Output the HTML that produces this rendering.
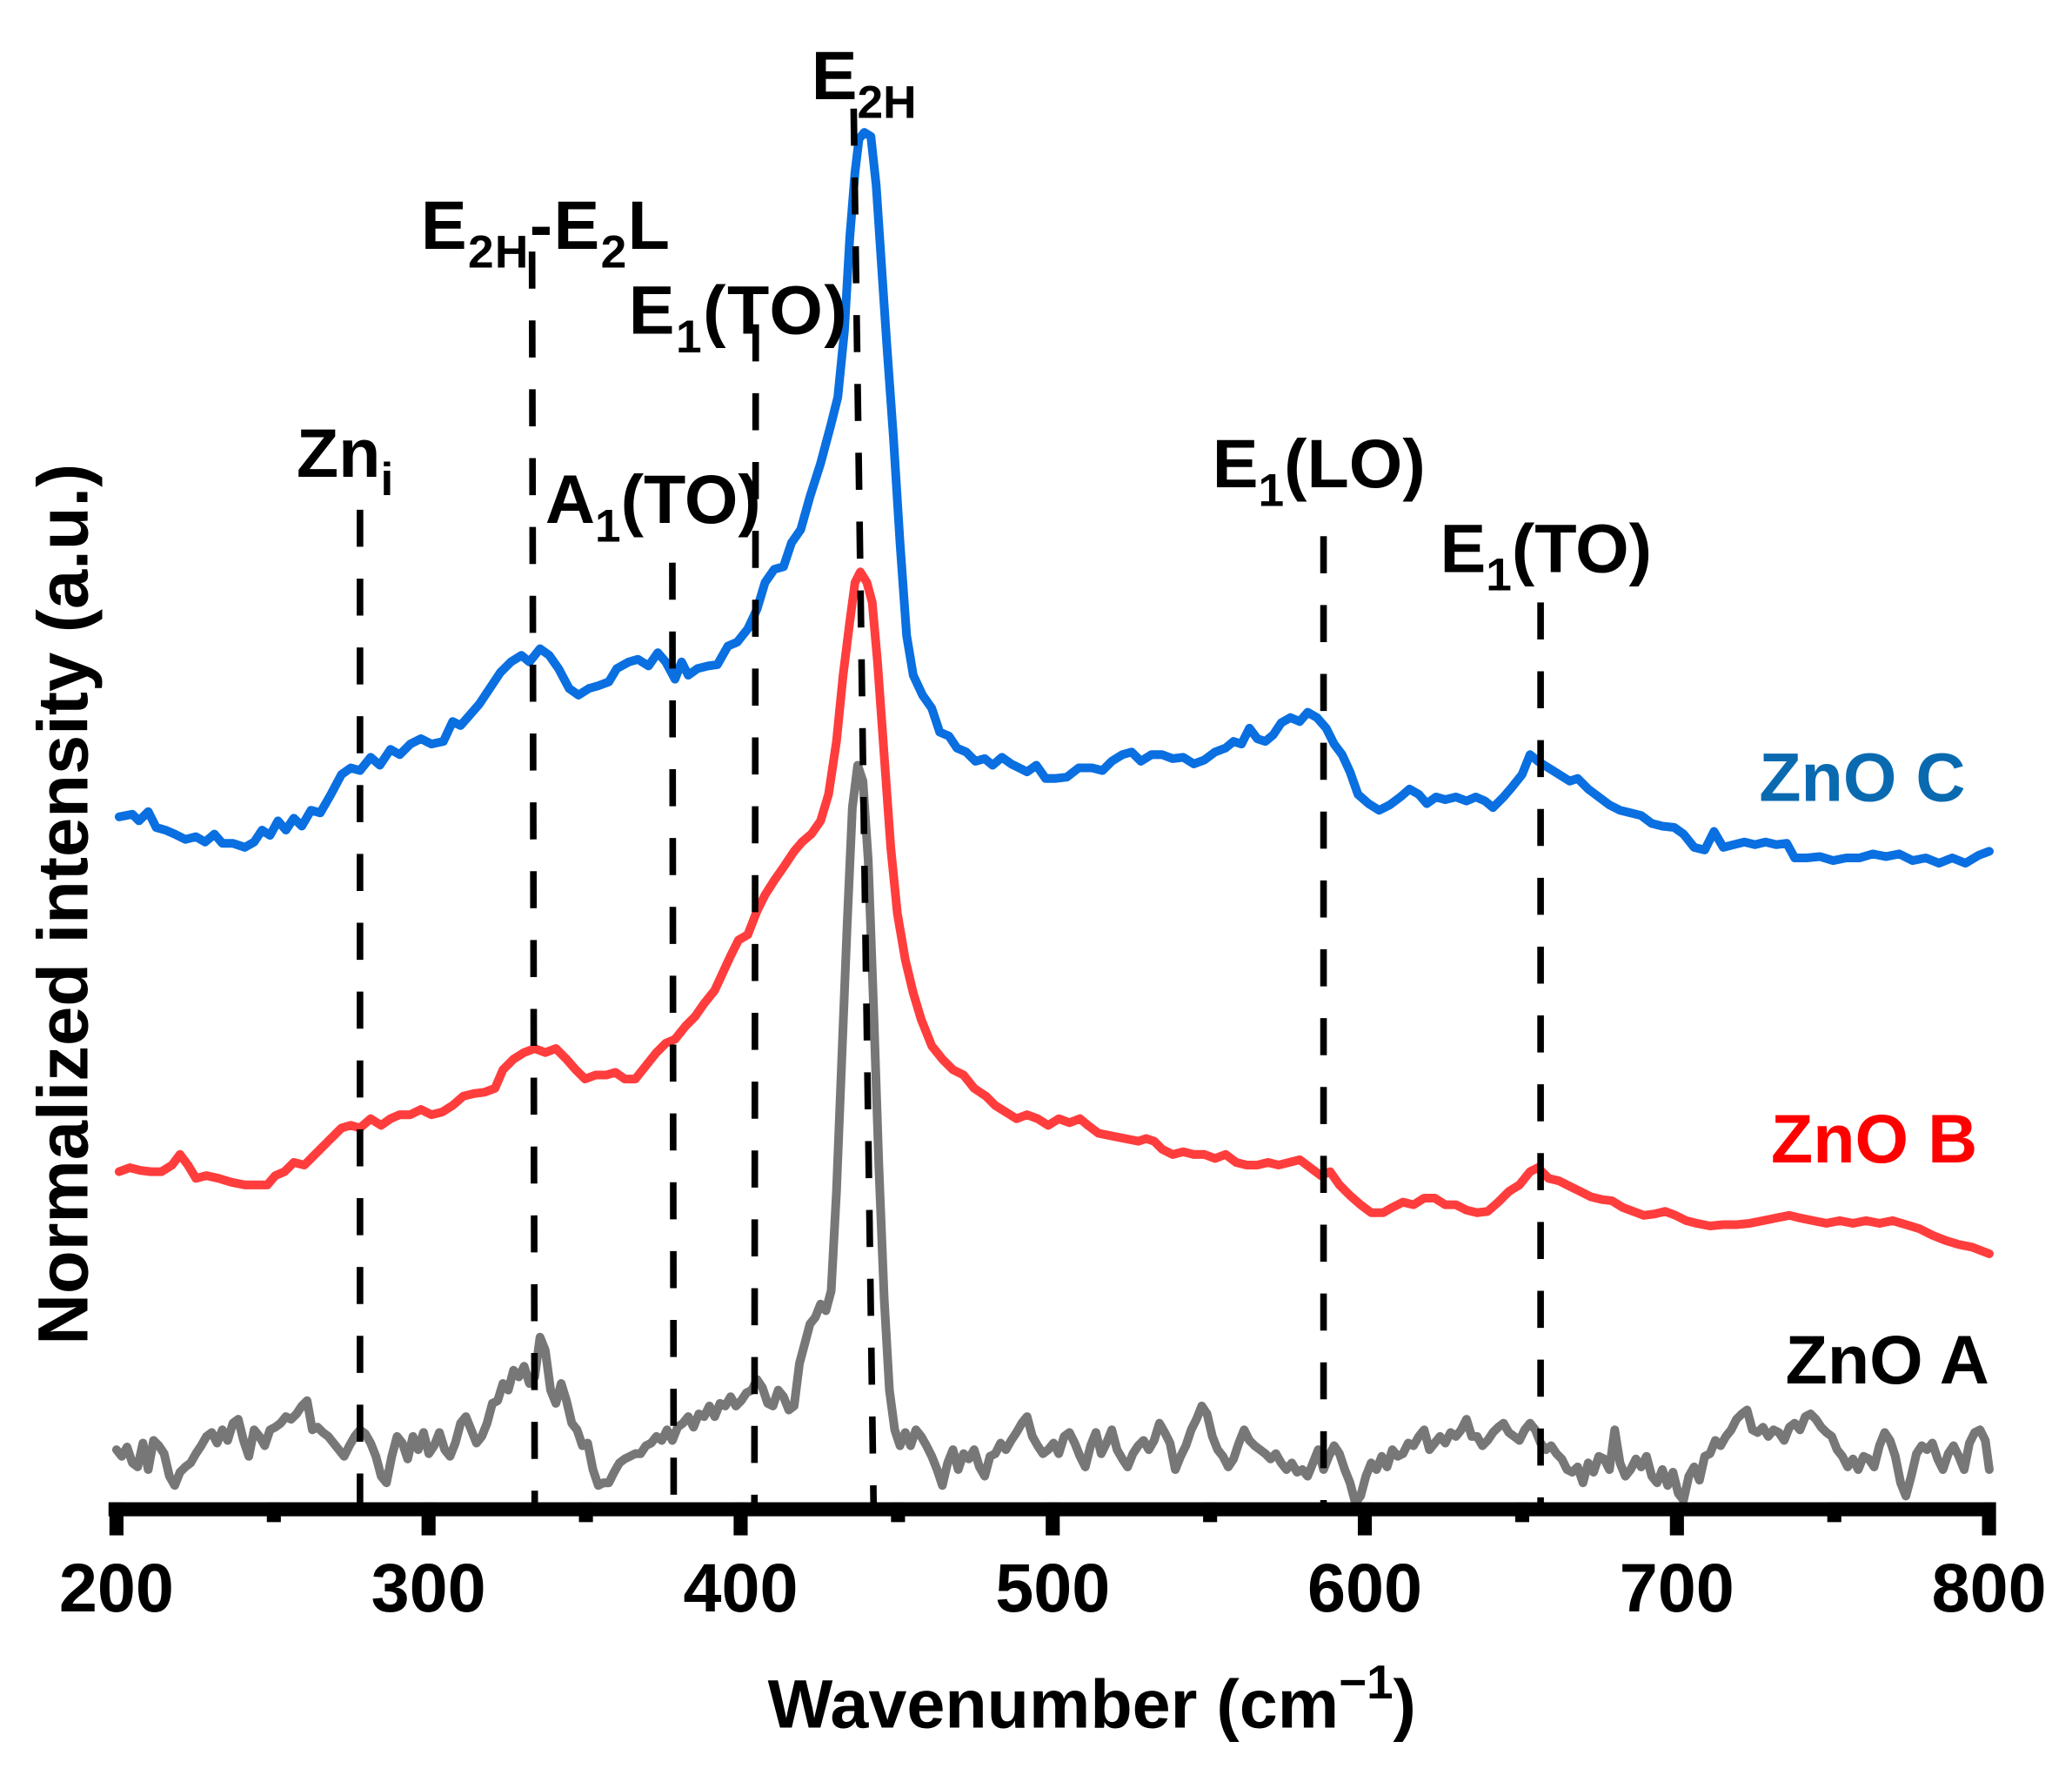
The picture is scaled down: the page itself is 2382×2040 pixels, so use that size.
<!DOCTYPE html>
<html><head><meta charset="utf-8"><style>
html,body{margin:0;padding:0;background:#fff;}
svg{display:block;}
text{font-family:"Liberation Sans",Arial,sans-serif;font-weight:bold;}
</style></head><body>
<svg width="2382" height="2040" viewBox="0 0 1565.5 1340.7" xmlns="http://www.w3.org/2000/svg">
<rect x="0" y="0" width="1565.5" height="1340.7" fill="#fff"/>
<g fill="none" stroke-linejoin="round" stroke-linecap="round" stroke-width="6.6">
<polyline stroke="#0a6fe0" points="90,617 100,615 105,620 112,613 118,625 125,627 132,630 140,634 148,632 155,636 162,630 168,637 176,637 185,640 192,636 198,627 204,631 210,620 216,627 222,618 228,624 235,612 242,614 250,600 258,585 265,580 272,582 280,572 287,578 295,566 302,570 310,562 318,558 326,562 335,560 342,545 348,548 355,540 362,532 370,520 378,508 386,500 394,495 400,500 408,490 415,495 422,505 430,520 437,525 445,520 452,518 460,515 466,505 475,500 482,498 490,503 497,493 503,500 510,513 515,500 520,510 527,505 535,503 542,502 550,488 557,485 565,475 572,460 578,440 585,430 592,428 598,410 605,400 612,375 620,350 628,320 633,300 638,250 642,180 646,130 649,105 653,100 658,103 662,140 666,200 670,260 675,330 680,410 685,480 690,510 697,525 704,535 710,553 717,556 723,565 730,568 737,575 744,573 750,578 757,572 764,577 770,580 776,583 783,578 790,588 797,588 806,587 815,580 825,580 833,582 840,575 848,570 855,568 862,575 870,570 878,570 886,573 894,572 902,577 910,574 918,568 926,565 932,560 938,562 944,550 950,558 956,560 962,555 968,546 975,542 982,545 988,538 995,542 1002,550 1008,562 1014,570 1020,583 1026,600 1034,607 1042,612 1050,608 1058,602 1065,596 1072,600 1078,607 1085,602 1092,604 1100,602 1108,605 1115,602 1122,605 1128,610 1136,602 1142,595 1150,585 1156,570 1162,575 1170,580 1178,585 1186,590 1192,588 1200,596 1208,602 1216,608 1224,612 1232,614 1240,616 1248,622 1256,624 1265,625 1272,630 1280,640 1288,642 1295,628 1302,640 1310,638 1318,636 1326,638 1334,636 1342,638 1350,637 1356,648 1365,648 1375,647 1385,650 1395,648 1405,648 1415,645 1425,647 1435,645 1445,650 1455,648 1465,652 1475,648 1485,652 1495,646 1503,643"/>
<polyline stroke="#ff3d3d" points="90,885 98,882 106,884 114,885 122,885 130,880 136,872 142,880 148,890 156,888 165,890 175,893 185,895 195,895 202,895 208,888 215,885 222,878 230,880 238,872 245,865 252,858 258,852 265,850 272,852 280,845 288,850 295,845 302,842 310,842 318,838 326,842 334,840 342,835 350,828 358,826 366,825 374,822 380,808 388,800 396,795 404,792 412,795 420,792 428,800 435,808 442,815 450,812 458,812 465,810 472,815 480,815 488,805 496,795 503,788 510,785 518,775 525,768 532,758 540,748 546,735 552,722 558,710 565,706 572,688 578,676 585,665 592,655 600,643 606,636 613,630 620,620 626,600 632,560 637,510 642,470 646,440 650,432 655,440 659,455 663,500 668,570 673,640 678,690 684,725 690,750 696,770 704,790 712,800 720,808 728,812 736,822 745,828 752,835 760,840 768,845 776,842 784,845 792,850 800,845 808,848 816,845 822,850 830,856 840,858 850,860 860,862 866,860 872,862 878,868 886,872 894,870 902,872 910,872 918,875 926,872 934,878 942,880 950,880 958,878 966,880 974,878 982,876 990,882 998,888 1005,885 1012,895 1020,903 1028,910 1036,916 1045,916 1052,912 1060,908 1068,910 1076,905 1084,905 1092,910 1100,910 1108,914 1116,916 1124,915 1132,908 1140,900 1148,895 1156,885 1162,882 1170,890 1178,892 1186,896 1194,900 1202,904 1210,906 1218,907 1226,912 1234,915 1242,918 1250,917 1258,915 1266,918 1274,922 1282,924 1292,926 1302,925 1312,925 1322,924 1332,922 1342,920 1352,918 1360,920 1370,922 1380,924 1390,922 1400,924 1410,922 1420,924 1430,922 1440,925 1450,928 1460,933 1470,937 1480,940 1490,942 1503,947"/>
<polyline stroke="#777777" points="88,1095 92,1100 96,1093 100,1105 104,1108 108,1090 112,1110 116,1088 120,1092 124,1098 128,1115 132,1122 136,1112 140,1108 144,1105 148,1098 152,1092 156,1085 160,1082 164,1090 168,1080 172,1088 176,1075 180,1072 184,1088 188,1100 192,1080 196,1085 200,1092 204,1080 208,1078 212,1075 216,1070 220,1072 224,1068 228,1062 232,1058 236,1080 240,1078 244,1082 248,1085 252,1090 256,1095 260,1100 264,1092 268,1085 272,1080 276,1083 280,1090 284,1100 288,1115 292,1120 296,1100 300,1085 304,1090 308,1102 312,1085 316,1095 320,1082 324,1098 328,1092 332,1082 336,1095 340,1100 344,1090 348,1075 352,1070 356,1080 360,1090 364,1085 368,1075 372,1060 376,1058 380,1045 384,1050 388,1035 392,1040 396,1032 400,1045 404,1040 408,1010 412,1020 416,1050 420,1060 424,1045 428,1058 432,1075 436,1080 440,1092 444,1090 448,1110 452,1122 456,1120 460,1120 464,1112 468,1105 472,1102 476,1100 480,1098 484,1098 488,1092 492,1090 496,1085 500,1088 504,1080 508,1088 512,1078 516,1075 520,1070 524,1078 528,1068 532,1070 536,1062 540,1070 544,1060 548,1062 552,1055 556,1062 560,1058 564,1052 568,1050 572,1042 576,1048 580,1060 584,1062 588,1050 592,1055 596,1065 600,1062 604,1030 608,1015 612,1000 616,995 620,985 624,990 628,975 632,900 636,800 640,700 644,610 648,578 652,590 656,650 660,760 664,880 668,980 672,1050 676,1080 680,1092 684,1082 688,1092 692,1080 696,1085 700,1092 704,1100 708,1110 712,1122 716,1105 720,1095 724,1110 728,1098 732,1102 736,1095 740,1108 744,1115 748,1100 752,1098 756,1090 760,1095 764,1088 768,1082 772,1075 776,1070 780,1085 784,1092 788,1098 792,1095 796,1090 800,1098 804,1085 808,1082 812,1090 816,1100 820,1108 824,1092 828,1082 832,1098 836,1090 840,1080 844,1095 848,1102 852,1108 856,1098 860,1092 864,1088 868,1095 872,1088 876,1075 880,1082 884,1090 888,1110 892,1100 896,1092 900,1080 904,1072 908,1062 912,1068 916,1085 920,1095 924,1100 928,1108 932,1102 936,1090 940,1080 944,1088 948,1092 952,1095 956,1098 960,1102 964,1098 968,1105 972,1110 976,1105 980,1112 984,1110 988,1115 992,1105 996,1095 1000,1110 1004,1100 1008,1092 1012,1098 1016,1110 1020,1120 1024,1135 1028,1130 1032,1115 1036,1105 1040,1110 1044,1100 1048,1108 1052,1095 1056,1100 1060,1098 1064,1090 1068,1092 1072,1085 1076,1080 1080,1095 1084,1090 1088,1085 1092,1090 1096,1082 1100,1085 1104,1080 1108,1072 1112,1085 1116,1085 1120,1092 1124,1088 1128,1082 1132,1078 1136,1075 1140,1082 1144,1085 1148,1088 1152,1080 1156,1075 1160,1080 1164,1090 1168,1095 1172,1092 1176,1098 1180,1102 1184,1110 1188,1112 1192,1108 1196,1120 1200,1105 1204,1112 1208,1100 1212,1102 1216,1110 1220,1080 1224,1105 1228,1115 1232,1110 1236,1102 1240,1108 1244,1100 1248,1115 1252,1120 1256,1110 1260,1122 1264,1112 1268,1128 1272,1133 1276,1115 1280,1108 1284,1118 1288,1100 1292,1098 1296,1088 1300,1092 1304,1085 1308,1080 1312,1072 1316,1068 1320,1065 1324,1080 1328,1082 1332,1078 1336,1085 1340,1080 1344,1082 1348,1088 1352,1078 1356,1075 1360,1080 1364,1070 1368,1068 1372,1072 1376,1078 1380,1082 1384,1085 1388,1095 1392,1100 1396,1108 1400,1102 1404,1110 1408,1100 1412,1102 1416,1108 1420,1092 1424,1082 1428,1088 1432,1100 1436,1120 1440,1130 1444,1115 1448,1098 1452,1092 1456,1095 1460,1090 1464,1102 1468,1110 1472,1098 1476,1092 1480,1100 1484,1110 1488,1090 1492,1082 1496,1080 1500,1088 1503,1110"/>
</g>
<g stroke="#000" stroke-width="5" stroke-dasharray="28,24" fill="none">
<line x1="272" y1="385" x2="272" y2="1135"/>
<line x1="402" y1="190" x2="404" y2="1135"/>
<line x1="508" y1="425" x2="509" y2="1135"/>
<line x1="571" y1="245" x2="570" y2="1135"/>
<line x1="645" y1="82" x2="660" y2="1135"/>
<line x1="1000" y1="405" x2="1000" y2="1135"/>
<line x1="1164" y1="455" x2="1164" y2="1135"/>
</g>
<g fill="#000">
<rect x="82" y="1134.7" width="1426" height="10.6"/>
<rect x="82.7" y="1134.7" width="10.6" height="25"/>
<rect x="318.5" y="1134.7" width="10.6" height="25"/>
<rect x="554.3" y="1134.7" width="10.6" height="25"/>
<rect x="790.1" y="1134.7" width="10.6" height="25"/>
<rect x="1025.9" y="1134.7" width="10.6" height="25"/>
<rect x="1261.7" y="1134.7" width="10.6" height="25"/>
<rect x="1497.5" y="1134.7" width="10.6" height="25"/>
<rect x="201.6" y="1134.7" width="10.6" height="15"/>
<rect x="437.4" y="1134.7" width="10.6" height="15"/>
<rect x="673.2" y="1134.7" width="10.6" height="15"/>
<rect x="909" y="1134.7" width="10.6" height="15"/>
<rect x="1144.8" y="1134.7" width="10.6" height="15"/>
<rect x="1380.6" y="1134.7" width="10.6" height="15"/>
</g>
<g font-size="52" text-anchor="middle" fill="#000">
<text x="88" y="1217">200</text>
<text x="323.8" y="1217">300</text>
<text x="559.6" y="1217">400</text>
<text x="795.4" y="1217">500</text>
<text x="1031.2" y="1217">600</text>
<text x="1267" y="1217">700</text>
<text x="1502.8" y="1217">800</text>
<text x="825" y="1305">Wavenumber (cm<tspan font-size="36" dy="-22">−1</tspan><tspan dy="22">)</tspan></text>
<text transform="translate(66,683) rotate(-90)" font-size="53.5">Normalized intensity (a.u.)</text>
</g>
<g font-size="52" fill="#000">
<text x="613" y="75">E<tspan font-size="35" dy="14">2H</tspan></text>
<text x="318" y="188" textLength="188">E<tspan font-size="35" dy="14">2H</tspan><tspan dy="-14">-E</tspan><tspan font-size="35" dy="14">2</tspan><tspan dy="-14">L</tspan></text>
<text x="475" y="252" textLength="165">E<tspan font-size="35" dy="14">1</tspan><tspan dy="-14">(TO)</tspan></text>
<text x="224" y="360">Zn<tspan font-size="35" dy="14">i</tspan></text>
<text x="412" y="395">A<tspan font-size="35" dy="14">1</tspan><tspan dy="-14">(TO)</tspan></text>
<text x="916" y="368">E<tspan font-size="35" dy="14">1</tspan><tspan dy="-14">(LO)</tspan></text>
<text x="1088" y="432">E<tspan font-size="35" dy="14">1</tspan><tspan dy="-14">(TO)</tspan></text>
</g>
<g font-size="52" text-anchor="end">
<text x="1485" y="605" fill="#0a6ab0">ZnO C</text>
<text x="1494" y="878" fill="#ff0000">ZnO B</text>
<text x="1503" y="1045" fill="#000">ZnO A</text>
</g>
</svg>
</body></html>
